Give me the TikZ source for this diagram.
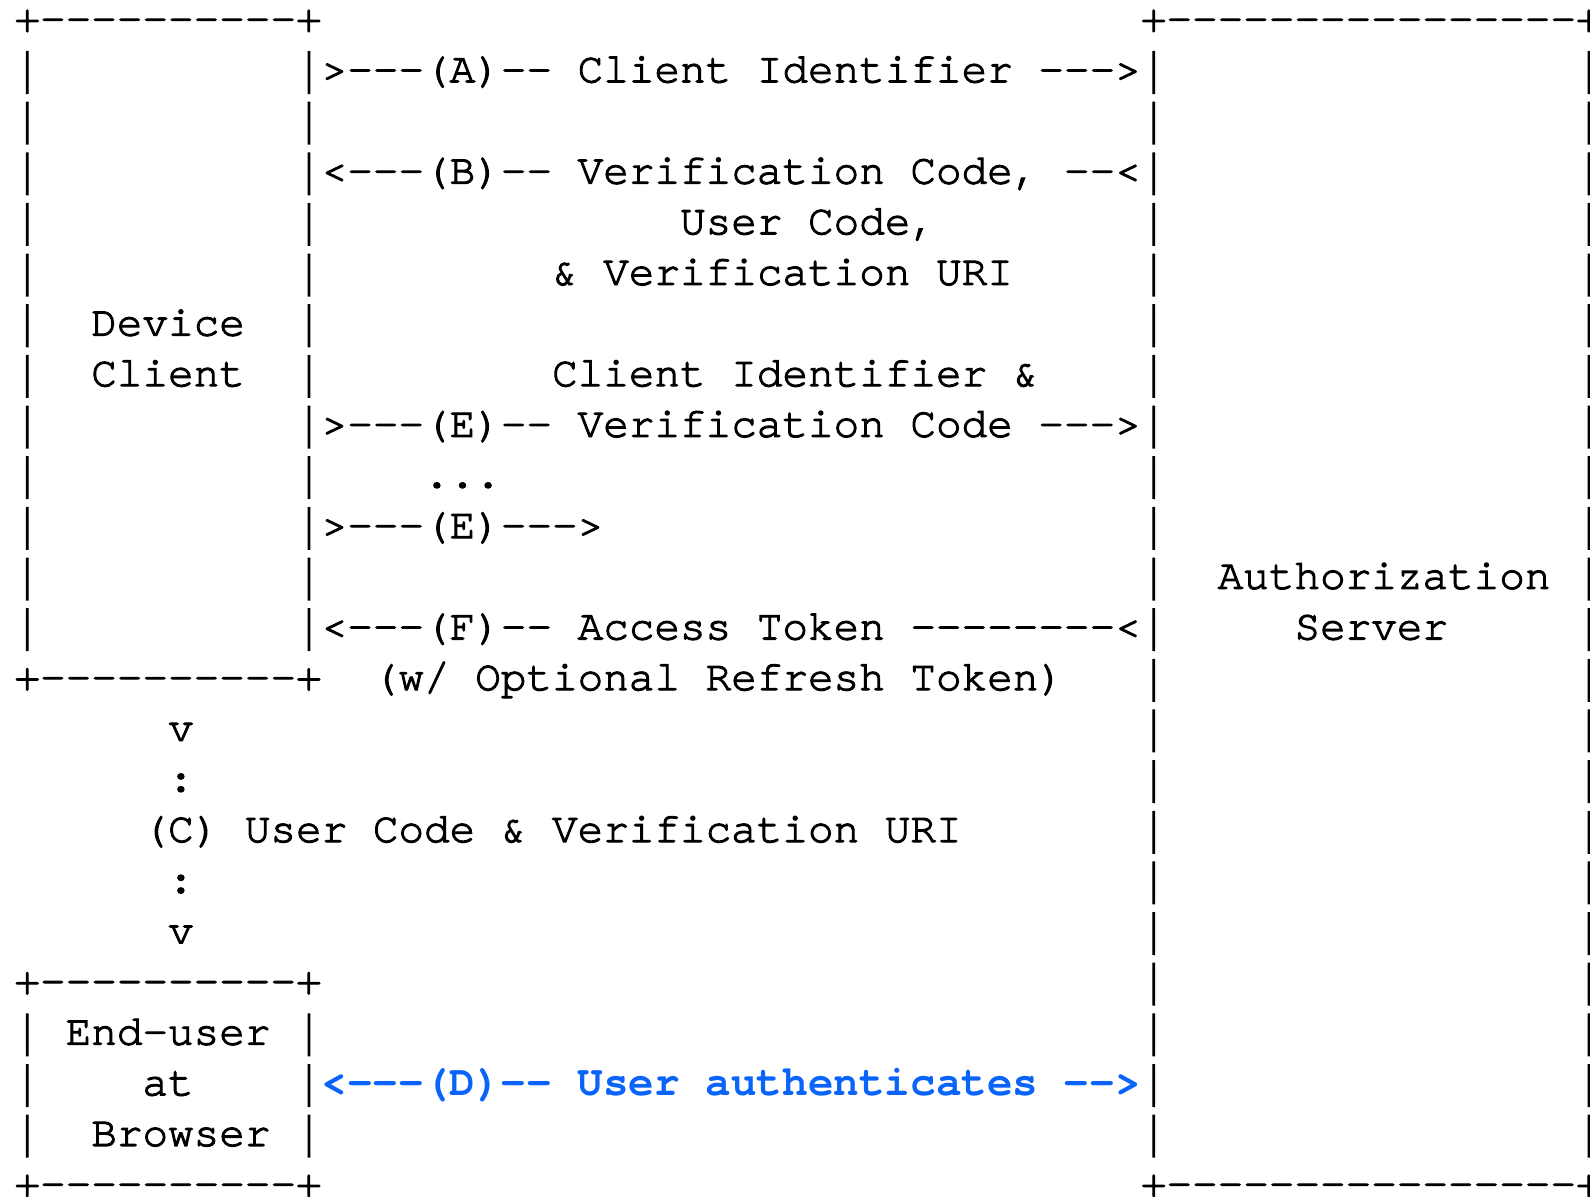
\documentclass[tikz,border=0pt]{standalone}
\usepackage{fontspec}
\newfontfamily\courfont{texgyrecursor-regular.otf}[Ligatures=NoCommon,FakeBold=2.5]
\newfontfamily\courbold{texgyrecursor-bold.otf}[Ligatures=NoCommon]
\definecolor{authblue}{RGB}{10,100,250}
\newcommand\vbar{\raisebox{-5.5pt}{\resizebox*{\width}{20.8pt}{\raisebox{\depth}{|}}}}
\frenchspacing
\begin{document}
\begin{tikzpicture}[x=12.8pt, y=-25.325pt, cell/.style={anchor=base west, inner sep=0pt, outer sep=0pt, font=\fontsize{21.33pt}{26pt}\courfont}]
\useasboundingbox (-7.25pt,15.825pt) rectangle (787.75pt,-582.175pt);
\node[cell] (devtop) at (0,0) {+----------+};
\node[cell] (srvtop) at (44,0) {+----------------+};
\foreach \r in {1,...,12} {\node[cell] (devl\r) at (0,\r) {\vbar}; \node[cell] (devr\r) at (11,\r) {\vbar};}
\foreach \r in {1,...,22} {\node[cell] (srvl\r) at (44,\r) {\vbar}; \node[cell] (srvr\r) at (61,\r) {\vbar};}
\node[cell] (devbot) at (0,13) {+----------+};
\node[cell] (usrtop) at (0,19) {+----------+};
\foreach \r in {20,21,22} {\node[cell] (usrl\r) at (0,\r) {\vbar}; \node[cell] (usrr\r) at (11,\r) {\vbar};}
\node[cell] (usrbot) at (0,23) {+----------+};
\node[cell] (srvbot) at (44,23) {+----------------+};
\node[cell] (device) at (3,6) {Device};
\node[cell] (client) at (3,7) {Client};
\node[cell] (authz) at (47,11) {Authorization};
\node[cell] (server) at (50,12) {Server};
\node[cell] (enduser) at (2,20) {End-user};
\node[cell] (at) at (5,21) {at};
\node[cell] (browser) at (3,22) {Browser};
\node[cell] (msga) at (12,1) {>---(A)-- Client Identifier --->};
\node[cell] (msgb) at (12,3) {<---(B)-- Verification Code, --<};
\node[cell] (msgbuser) at (26,4) {User Code,};
\node[cell] (msgburi) at (21,5) {\& Verification URI};
\node[cell] (msgeid) at (21,7) {Client Identifier \&};
\node[cell] (msge) at (12,8) {>---(E)-- Verification Code --->};
\node[cell] (dots) at (16,9) {...};
\node[cell] (msgepoll) at (12,10) {>---(E)--->};
\node[cell] (msgf) at (12,12) {<---(F)-- Access Token --------<};
\node[cell] (msgfopt) at (14,13) {(w/ Optional Refresh Token)};
\node[cell] (cva) at (6,14) {v};
\node[cell] (cca) at (6,15) {:};
\node[cell] (msgc) at (5,16) {(C) User Code \& Verification URI};
\node[cell] (ccb) at (6,17) {:};
\node[cell] (cvb) at (6,18) {v};
\node[cell, text=authblue, font=\fontsize{21.33pt}{26pt}\courbold] (msgd) at (12,21) {<---(D)-- User authenticates -->};
\end{tikzpicture}
\end{document}
